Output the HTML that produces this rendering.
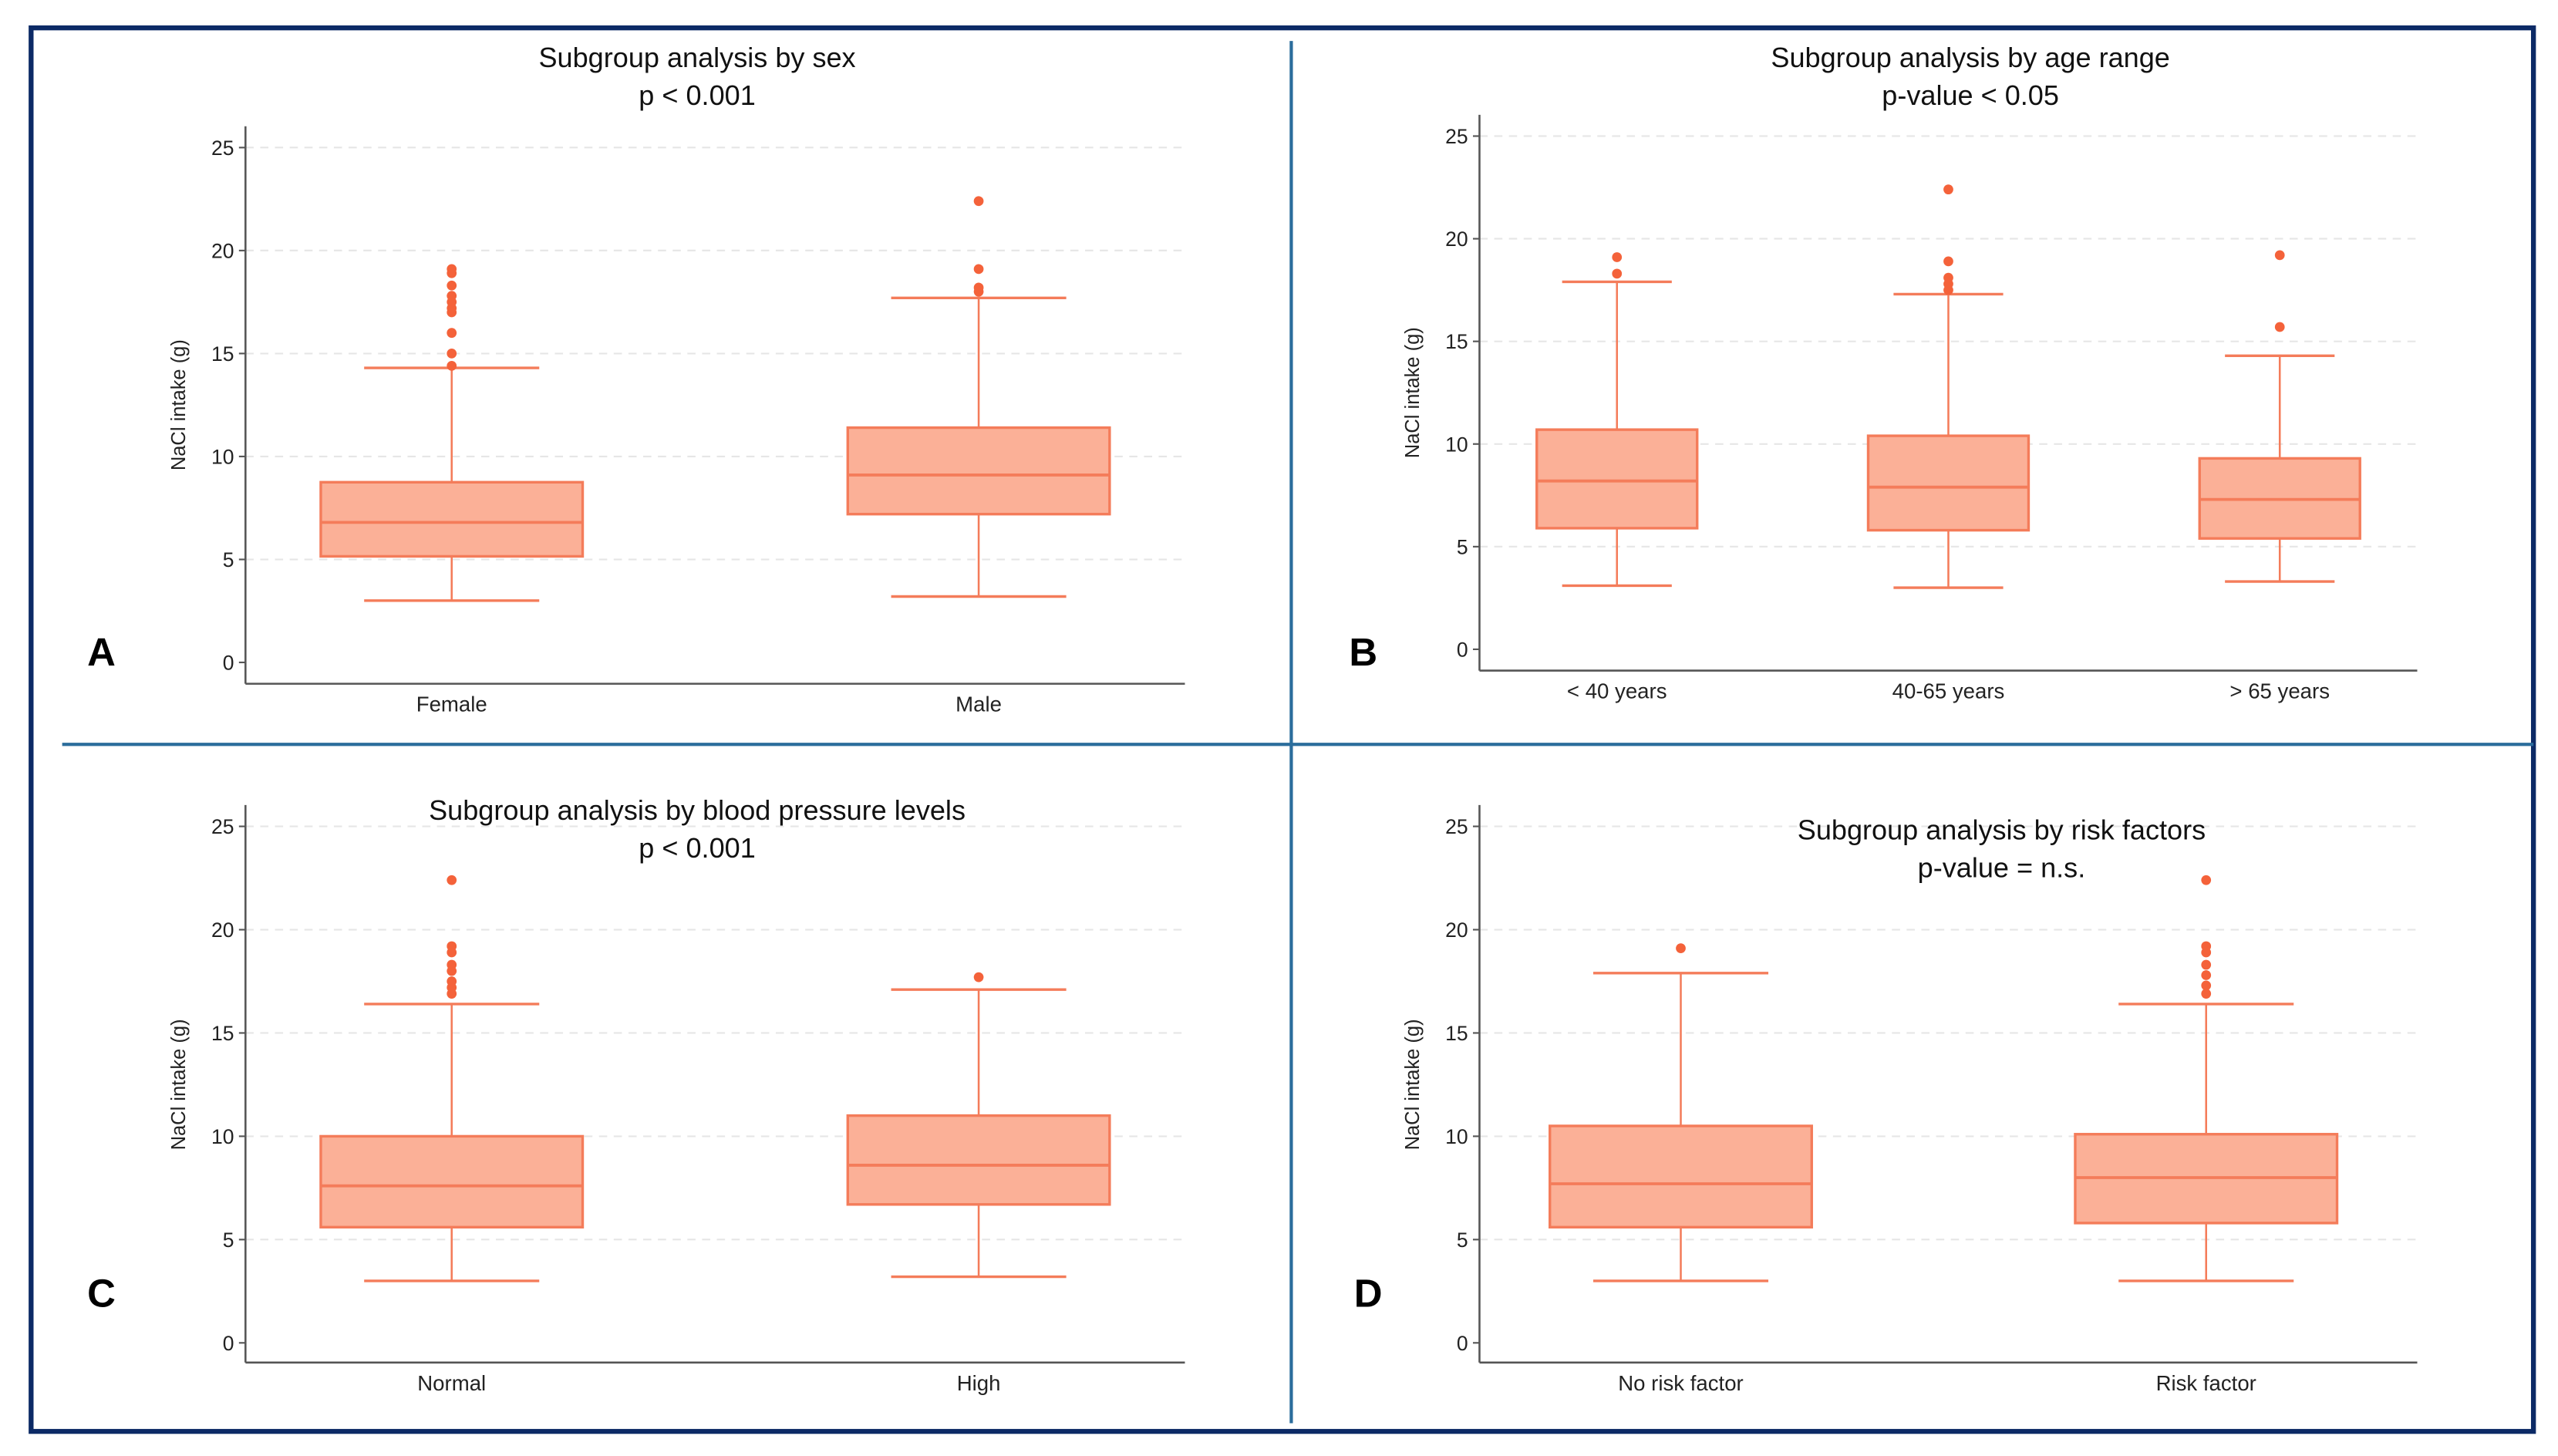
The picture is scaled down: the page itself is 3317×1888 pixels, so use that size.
<!DOCTYPE html>
<html><head><meta charset="utf-8"><style>
html,body{margin:0;padding:0;background:#fff;}
svg{display:block;font-family:"Liberation Sans",sans-serif;}
</style></head><body>
<svg id="fig" width="3317" height="1888" viewBox="0 0 1563 888" preserveAspectRatio="none" xmlns="http://www.w3.org/2000/svg">
<rect x="0" y="0" width="1563" height="888" fill="#fff"/>
<rect x="19" y="17" width="1529" height="856" fill="none" stroke="#0c2a66" stroke-width="3"/>
<line x1="789" y1="25" x2="789" y2="868" stroke="#2b6d9c" stroke-width="2"/>
<line x1="38" y1="454" x2="1548" y2="454" stroke="#2b6d9c" stroke-width="2"/>
</svg>
<script>
// Panel A: sex
const aCategories = ["Female", "Male"];
const aQ1 = [5.15, 7.2];
const aMedian = [6.8, 9.1];
const aQ3 = [8.75, 11.4];
const aLow = [3.0, 3.2];
const aHigh = [14.3, 17.7];
const aOutliers = [[14.4, 15.0, 16.0, 17.0, 17.2, 17.5, 17.8, 18.3, 18.9, 19.1], [18.0, 18.2, 19.1, 22.4]];
// Panel B: age range
const bCategories = ["< 40 years", "40-65 years", "> 65 years"];
const bQ1 = [5.9, 5.8, 5.4];
const bMedian = [8.2, 7.9, 7.3];
const bQ3 = [10.7, 10.4, 9.3];
const bLow = [3.1, 3.0, 3.3];
const bHigh = [17.9, 17.3, 14.3];
const bOutliers = [[18.3, 19.1], [17.5, 17.8, 18.1, 18.9, 22.4], [15.7, 19.2]];
// Panel C: blood pressure
const cCategories = ["Normal", "High"];
const cQ1 = [5.6, 6.7];
const cMedian = [7.6, 8.6];
const cQ3 = [10.0, 11.0];
const cLow = [3.0, 3.2];
const cHigh = [16.4, 17.1];
const cOutliers = [[16.9, 17.2, 17.5, 18.0, 18.3, 18.9, 19.2, 22.4], [17.7]];
// Panel D: risk factors
const dCategories = ["No risk factor", "Risk factor"];
const dQ1 = [5.6, 5.8];
const dMedian = [7.7, 8.0];
const dQ3 = [10.5, 10.1];
const dLow = [3.0, 3.0];
const dHigh = [17.9, 16.4];
const dOutliers = [[19.1], [16.9, 17.3, 17.8, 18.3, 18.9, 19.2, 22.4]];
const yTicks = [0, 5, 10, 15, 20, 25];

const NS = "http://www.w3.org/2000/svg";
const svg = document.getElementById("fig");
function mk(tag, attrs, parent, text) {
  const e = document.createElementNS(NS, tag);
  for (const k in attrs) e.setAttribute(k, attrs[k]);
  if (text !== undefined) e.textContent = text;
  (parent || svg).appendChild(e);
  return e;
}
function panel(cfg) {
  const g = mk("g", {});
  
  
  const y = v => cfg.y0 + (cfg.y25 - cfg.y0) * v / 25;
  const x = i => cfg.xl + cfg.pad + i * cfg.step;
  yTicks.forEach(t => {
    if (t > 0) {
      const gl = mk("line", {x1: cfg.xl, x2: cfg.xr, y1: y(t), y2: y(t), stroke: "#e6e6e6", "stroke-width": 1, "stroke-dasharray": "5,4"}, g);
      
      
    }
    const tk = mk("line", {x1: cfg.xl - 4, x2: cfg.xl, y1: y(t), y2: y(t), stroke: "#555", "stroke-width": 1}, g);
    
    
    const tl = mk("text", {x: cfg.xl - 7, y: y(t) + 4.5, "text-anchor": "end", "font-size": 12.5, fill: "#222"}, g, String(t));
    
    
  });
  const ya = mk("line", {x1: cfg.xl, x2: cfg.xl, y1: cfg.top, y2: cfg.bottom, stroke: "#555", "stroke-width": 1.2}, g);
  
  
  const xa = mk("line", {x1: cfg.xl, x2: cfg.xr, y1: cfg.bottom, y2: cfg.bottom, stroke: "#555", "stroke-width": 1.2}, g);
  
  
  const yl = mk("text", {x: 0, y: 0, transform: `translate(${cfg.xl - 37},${(y(0) + y(25)) / 2}) rotate(-90)`, "text-anchor": "middle", "font-size": 12, fill: "#222"}, g, "NaCl intake (g)");
  
  
  cfg.cats.forEach((c, i) => {
    const cx = x(i), hw = cfg.bw / 2, cw = cfg.cw / 2;
    const xl = mk("text", {x: cx, y: cfg.bottom + 17, "text-anchor": "middle", "font-size": 13, fill: "#222"}, g, c);
    
    
    const st = "#f47c5a";
    const w1 = mk("line", {x1: cx, x2: cx, y1: y(cfg.q3[i]), y2: y(cfg.hi[i]), stroke: st, "stroke-width": 1.2}, g);
    
    
    const w2 = mk("line", {x1: cx, x2: cx, y1: y(cfg.q1[i]), y2: y(cfg.lo[i]), stroke: st, "stroke-width": 1.2}, g);
    
    
    const c1 = mk("line", {x1: cx - cw, x2: cx + cw, y1: y(cfg.hi[i]), y2: y(cfg.hi[i]), stroke: st, "stroke-width": 1.6}, g);
    
    
    const c2 = mk("line", {x1: cx - cw, x2: cx + cw, y1: y(cfg.lo[i]), y2: y(cfg.lo[i]), stroke: st, "stroke-width": 1.6}, g);
    
    
    const bx = mk("rect", {x: cx - hw, y: y(cfg.q3[i]), width: cfg.bw, height: y(cfg.q1[i]) - y(cfg.q3[i]), fill: "#fbb097", stroke: st, "stroke-width": 1.6}, g);
    
    
    const md = mk("line", {x1: cx - hw, x2: cx + hw, y1: y(cfg.med[i]), y2: y(cfg.med[i]), stroke: st, "stroke-width": 1.8}, g);
    
    
    cfg.out[i].forEach(v => {
      const o = mk("circle", {cx: cx, cy: y(v), r: 3, fill: "#f4623a"}, g);
      
      
    });
  });
  cfg.title.forEach((t, k) => {
    const tt = mk("text", {x: cfg.tx, y: cfg.ty + k * 23, "text-anchor": "middle", "font-size": 17, fill: "#111"}, g, t);
    
    
  });
  const lt = mk("text", {x: cfg.lx, y: cfg.ly, "text-anchor": "middle", "font-size": 24, "font-weight": "bold", fill: "#000"}, g, cfg.letter);
  
  
}
panel({name: "panel-a-sex", cats: aCategories, q1: aQ1, med: aMedian, q3: aQ3, lo: aLow, hi: aHigh, out: aOutliers,
  xl: 150, xr: 724, top: 77, bottom: 417, y0: 404, y25: 90, bw: 160, cw: 107, pad: 126, step: 322,
  title: ["Subgroup analysis by sex", "p < 0.001"], tx: 426, ty: 41, letter: "A", lx: 62, ly: 406});
panel({name: "panel-b-age", cats: bCategories, q1: bQ1, med: bMedian, q3: bQ3, lo: bLow, hi: bHigh, out: bOutliers,
  xl: 904, xr: 1477, top: 70, bottom: 409, y0: 396, y25: 83, bw: 98, cw: 67, pad: 84, step: 202.5,
  title: ["Subgroup analysis by age range", "p-value < 0.05"], tx: 1204, ty: 41, letter: "B", lx: 833, ly: 406});
panel({name: "panel-c-blood-pressure", cats: cCategories, q1: cQ1, med: cMedian, q3: cQ3, lo: cLow, hi: cHigh, out: cOutliers,
  xl: 150, xr: 724, top: 491, bottom: 831, y0: 819, y25: 504, bw: 160, cw: 107, pad: 126, step: 322,
  title: ["Subgroup analysis by blood pressure levels", "p < 0.001"], tx: 426, ty: 500, letter: "C", lx: 62, ly: 797});
panel({name: "panel-d-risk-factors", cats: dCategories, q1: dQ1, med: dMedian, q3: dQ3, lo: dLow, hi: dHigh, out: dOutliers,
  xl: 904, xr: 1477, top: 491, bottom: 831, y0: 819, y25: 504, bw: 160, cw: 107, pad: 123, step: 321,
  title: ["Subgroup analysis by risk factors", "p-value = n.s."], tx: 1223, ty: 512, letter: "D", lx: 836, ly: 797});
</script>
</body></html>
